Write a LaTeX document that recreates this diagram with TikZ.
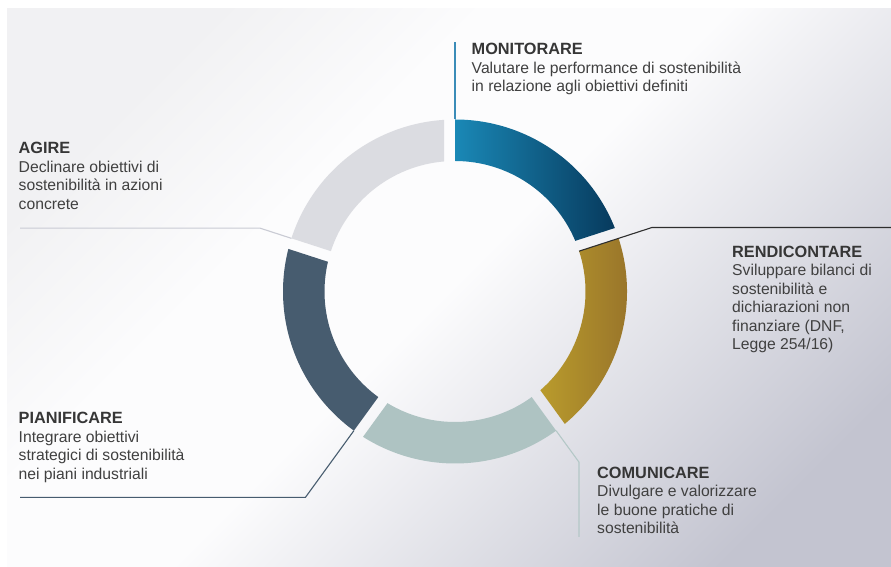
\documentclass[tikz,border=0pt]{standalone}
\usepackage{fontspec}
\setmainfont{Liberation Sans}
\usetikzlibrary{calc}
\definecolor{monL}{HTML}{1A88B6}
\definecolor{monR}{HTML}{073A5D}
\definecolor{renL}{HTML}{B99B2C}
\definecolor{renR}{HTML}{95702A}
\definecolor{comC}{HTML}{AEC3C2}
\definecolor{piaC}{HTML}{475C6F}
\definecolor{agiC}{HTML}{DBDCE1}
\definecolor{monLine}{HTML}{3B8CB8}
\definecolor{renLine}{HTML}{2E2E2E}
\definecolor{comLine}{HTML}{B4C8C7}
\definecolor{agiLine}{HTML}{C9CBD4}
\definecolor{hdC}{HTML}{363636}
\definecolor{bodyC}{HTML}{404040}
\definecolor{bgL}{HTML}{F1F1F3}
\definecolor{bgM}{HTML}{FCFCFD}
\definecolor{bgD}{HTML}{C3C4D0}
\pgfdeclareverticalshading{bgshade}{100bp}{color(0bp)=(bgD); color(23bp)=(bgD); color(50bp)=(bgM); color(62bp)=(bgM); color(75bp)=(bgL); color(100bp)=(bgL)}
\newcommand\ringseg[3]{%
  \path[#1] (#2:172) arc[start angle=#2, end angle=#3+3.667, radius=172]
    -- (#3+4.836:130.5) arc[start angle=#3+4.836, end angle=#2, radius=130.5] -- cycle;}
\newcommand\hd[1]{{\fontsize{16.3}{18.5}\selectfont\bfseries\color{hdC}#1}}
\tikzset{
  lbl/.style={anchor=base west, inner sep=0pt, text=bodyC, font=\fontsize{15.7}{18.5}\selectfont},
  conn/.style={line width=1.1pt},
}
\begin{document}
\begin{tikzpicture}[x=1pt,y=1pt]
\useasboundingbox (0,0) rectangle (891,567);
\fill[white] (0,0) rectangle (891,567);
\shade[shading=bgshade, shading angle=45] (7,-1) rectangle (892,558);
\coordinate (leftref) at (20,0);
\coordinate (rightref) at (891,0);
\coordinate (bottomref) at (0,30);
\begin{scope}[shift={(455,275.5)}]
  \ringseg{left color=monL, right color=monR}{90}{18}
  \ringseg{left color=renL, right color=renR}{18}{-54}
  \ringseg{fill=comC}{-54}{-126}
  \ringseg{fill=piaC}{-126}{-198}
  \ringseg{fill=agiC}{162}{90}
  \coordinate (monA) at (90:172);
  \coordinate (monB) at (90:249.5);
  \coordinate (renA) at (18:130.5);
  \coordinate (renB) at (18:207);
  \coordinate (comA) at (-54:172);
  \coordinate (comB) at (-54:211);
  \coordinate (piaA) at (-126:172);
  \coordinate (piaB) at (-126:254.5);
  \coordinate (agiA) at (162:172);
  \coordinate (agiB) at (162:205);
\end{scope}
\draw[conn, monLine] (monA) -- (monB);
\draw[conn, renLine] (renA) -- (renB) -- (renB -| rightref);
\draw[conn, comLine] (comA) -- (comB) -- (comB |- bottomref);
\draw[conn, piaC] (piaA) -- (piaB) -- (piaB -| leftref);
\draw[conn, agiLine] (agiA) -- (agiB) -- (agiB -| leftref);

\node[lbl] (monT) at (471.5,512) {\begin{tabular}[t]{@{}l@{}}\hd{MONITORARE}\\ Valutare le performance di sostenibilità\\ in relazione agli obiettivi definiti\end{tabular}};
\node[lbl] (renT) at (732,309.7) {\begin{tabular}[t]{@{}l@{}}\hd{RENDICONTARE}\\ Sviluppare bilanci di\\ sostenibilità e\\ dichiarazioni non\\ finanziare (DNF,\\ Legge 254/16)\end{tabular}};
\node[lbl] (comT) at (597,88.7) {\begin{tabular}[t]{@{}l@{}}\hd{COMUNICARE}\\ Divulgare e valorizzare\\ le buone pratiche di\\ sostenibilità\end{tabular}};
\node[lbl] (piaT) at (18.5,143) {\begin{tabular}[t]{@{}l@{}}\hd{PIANIFICARE}\\ Integrare obiettivi\\ strategici di sostenibilità\\ nei piani industriali\end{tabular}};
\node[lbl] (agiT) at (18.5,413.4) {\begin{tabular}[t]{@{}l@{}}\hd{AGIRE}\\ Declinare obiettivi di\\ sostenibilità in azioni\\ concrete\end{tabular}};
\end{tikzpicture}
\end{document}
